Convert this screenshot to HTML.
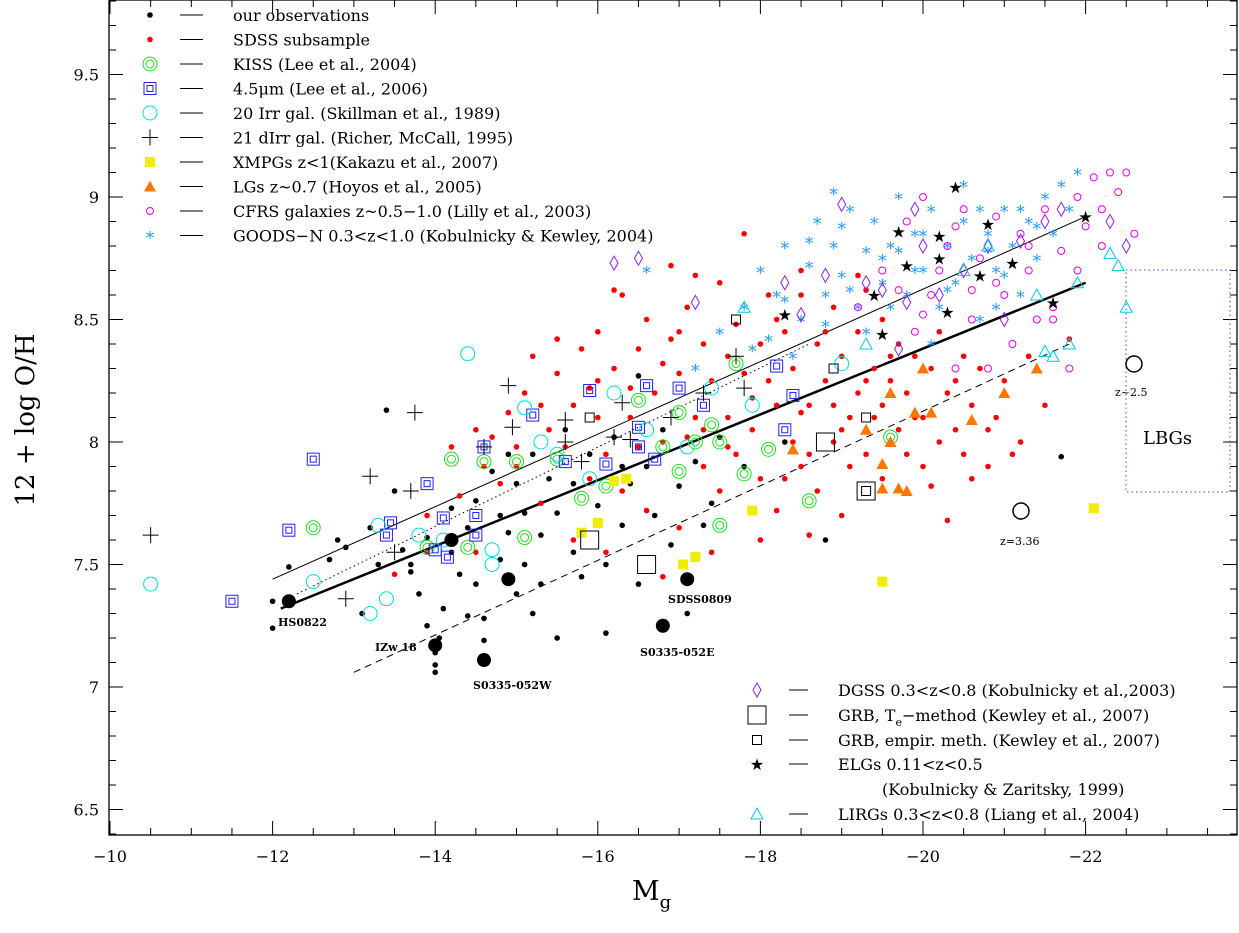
<!DOCTYPE html>
<html><head><meta charset="utf-8"><style>
body{margin:0;background:#fff}
svg text{font-family:"DejaVu Serif","Liberation Serif",serif}
</style></head><body>
<svg id="chart" width="1239" height="928" xmlns="http://www.w3.org/2000/svg"></svg>
<script>
const xTicks=[-10,-12,-14,-16,-18,-20,-22];
const yTicks=[6.5,7,7.5,8,8.5,9,9.5];
const ours=[[-12,7.24],[-12,7.35],[-12.2,7.49],[-12.7,7.52],[-12.9,7.57],[-13.1,7.3],[-13.3,7.5],[-13.4,8.13],[-13.5,7.8],[-13.6,7.56],[-13.7,7.47],[-13.8,7.38],[-13.9,7.61],[-14,7.06],[-14,7.09],[-14,7.14],[-14.05,7.2],[-14.1,7.32],[-14.2,7.55],[-14.2,7.73],[-14.3,7.46],[-14.4,7.29],[-14.5,7.76],[-14.5,7.42],[-14.6,7.28],[-14.6,7.19],[-14.7,7.88],[-14.8,7.52],[-14.8,7.7],[-14.9,7.63],[-15,7.38],[-15,7.83],[-15.1,7.71],[-15.1,7.5],[-15.2,7.95],[-15.3,7.42],[-15.3,7.62],[-15.4,7.85],[-15.5,7.71],[-15.6,8.05],[-15.7,7.55],[-15.7,7.83],[-15.9,7.95],[-16,7.74],[-16.1,7.5],[-16.2,8.02],[-16.3,7.66],[-16.4,7.83],[-16.5,8.27],[-16.5,7.42],[-16.6,7.9],[-16.7,7.7],[-16.8,8.05],[-16.9,7.58],[-17,7.82],[-17.1,7.3],[-17.2,7.92],[-17.3,7.66],[-17.4,7.75],[-17.5,8.02],[-16.1,7.22],[-15.2,7.3],[-13.7,7.5],[-12.8,7.6],[-18.8,7.6],[-21.7,7.94],[-18.3,8.0],[-15.8,7.45],[-14.4,7.65],[-13.2,7.65],[-17.8,7.9],[-14.9,7.95],[-15.5,7.2],[-13.9,7.25],[-16.3,7.9]];
const big=[[-12.2,7.35],[-14,7.17],[-14.2,7.6],[-14.6,7.11],[-14.9,7.44],[-16.8,7.25],[-17.1,7.44]];
const sdss=[[-13.5,7.46],[-13.9,7.7],[-14.2,7.98],[-14.5,8.05],[-14.7,8.02],[-14.8,7.83],[-15,7.9],[-15.1,8.2],[-15.2,8.35],[-15.3,7.75],[-15.4,8.05],[-15.5,8.28],[-15.6,7.98],[-15.7,8.15],[-15.8,8.38],[-15.9,7.85],[-16,8.1],[-16,8.45],[-16.1,7.95],[-16.2,8.3],[-16.3,8.6],[-16.3,7.8],[-16.4,8.1],[-16.5,8.38],[-16.6,7.72],[-16.6,8.5],[-16.7,8.2],[-16.8,8.0],[-16.9,8.42],[-17,8.28],[-17,7.65],[-17.1,8.55],[-17.2,8.1],[-17.3,7.9],[-17.3,8.4],[-17.4,8.25],[-17.5,8.65],[-17.5,7.8],[-17.6,8.1],[-17.7,8.48],[-17.7,7.95],[-17.8,8.85],[-17.8,8.28],[-17.9,8.05],[-18,8.4],[-18,7.85],[-18.1,8.6],[-18.2,8.15],[-18.2,7.72],[-18.3,8.45],[-18.4,8.0],[-18.4,8.3],[-18.5,7.9],[-18.5,8.6],[-18.6,8.15],[-18.7,8.4],[-18.7,7.8],[-18.8,8.25],[-18.9,8.0],[-18.9,8.55],[-19,7.7],[-19,8.35],[-19.1,8.1],[-19.1,7.9],[-19.2,8.45],[-19.2,8.2],[-19.3,7.95],[-19.4,8.3],[-19.4,8.1],[-19.5,7.85],[-19.5,8.5],[-19.6,8.25],[-19.7,8.05],[-19.7,8.4],[-19.8,7.95],[-19.8,8.2],[-19.9,8.35],[-20,8.1],[-20,7.9],[-20.1,8.3],[-20.2,8.0],[-20.2,8.45],[-20.3,8.2],[-20.3,7.68],[-20.4,8.05],[-20.5,8.35],[-20.5,7.95],[-20.6,8.15],[-20.7,8.3],[-20.8,7.9],[-20.9,8.1],[-21,8.25],[-21.2,8.0],[-21.3,8.35],[-21.5,8.15],[-21.8,8.42],[-15.7,7.6],[-16.1,7.55],[-16.8,7.45],[-17.4,7.55],[-18,7.6],[-18.6,7.62],[-14.9,8.12],[-15.5,8.42],[-16.2,8.62],[-16.9,8.72],[-17.2,8.68],[-18.5,8.7],[-19.3,8.62],[-13.9,7.55],[-14.3,7.78],[-14.6,7.9],[-15.9,8.22],[-16.5,7.98],[-17.6,8.35],[-18.9,8.15],[-19.6,8.0],[-20.6,7.85],[-21.1,7.95],[-19.2,8.68],[-16.8,8.32],[-17.1,8.02],[-17.6,7.98],[-18.1,8.25],[-18.3,7.85],[-18.8,8.45],[-19.0,8.05],[-19.6,8.35],[-19.9,8.1],[-20.4,8.25],[-20.8,8.05],[-16.4,8.22],[-17.9,8.18],[-18.6,7.95],[-19.3,8.25],[-15.3,8.15],[-16.0,8.25],[-17.0,8.45],[-18.2,8.5],[-17.3,8.05],[-18.5,8.12],[-19.5,8.15],[-20.1,7.82],[-15.0,7.98],[-14.5,7.55]];
const kiss=[[-12.5,7.65],[-13.9,7.57],[-14.2,7.93],[-14.4,7.57],[-14.6,7.92],[-15,7.92],[-15.1,7.61],[-15.5,7.93],[-15.8,7.77],[-16.1,7.82],[-16.5,8.17],[-16.8,7.98],[-17,7.88],[-17,8.12],[-17.2,8.0],[-17.4,8.07],[-17.5,8.0],[-17.7,8.32],[-17.5,7.66],[-17.8,7.87],[-18.1,7.97],[-18.6,7.76],[-19.6,8.02]];
const lee=[[-11.5,7.35],[-12.2,7.64],[-12.5,7.93],[-13.4,7.62],[-13.45,7.67],[-13.9,7.83],[-14,7.56],[-14.1,7.69],[-14.15,7.53],[-14.5,7.62],[-14.5,7.7],[-14.6,7.98],[-15.2,8.11],[-15.6,7.92],[-15.9,8.21],[-16.1,7.91],[-16.5,8.06],[-16.5,7.98],[-16.6,8.23],[-16.7,7.93],[-17,8.22],[-17.3,8.15],[-18.2,8.31],[-18.4,8.19],[-18.3,8.05]];
const skill=[[-10.5,7.42],[-12.5,7.43],[-13.2,7.3],[-13.3,7.66],[-13.4,7.36],[-13.8,7.62],[-14.1,7.6],[-14.4,8.36],[-14.7,7.56],[-14.7,7.5],[-15.1,8.14],[-15.3,8.0],[-15.5,7.95],[-15.9,7.85],[-16.2,8.2],[-16.6,8.05],[-17.1,7.98],[-17.4,8.22],[-17.9,8.15],[-19,8.32]];
const richer=[[-10.5,7.62],[-12.9,7.36],[-13.2,7.86],[-13.5,7.55],[-13.7,7.8],[-13.75,8.12],[-14.6,7.98],[-14.9,8.23],[-14.95,8.06],[-15.6,8.09],[-15.6,8.0],[-15.8,7.92],[-16.2,8.02],[-16.3,8.16],[-16.4,8.01],[-16.9,8.1],[-17.3,8.2],[-17.7,8.35],[-17.8,8.22]];
const xmpg=[[-16.2,7.84],[-16.35,7.85],[-16,7.67],[-15.8,7.63],[-17.2,7.53],[-17.05,7.5],[-17.9,7.72],[-19.5,7.43],[-22.1,7.73]];
const lgs=[[-18.4,7.97],[-19.5,7.91],[-19.6,8.0],[-19.6,8.2],[-19.7,7.81],[-19.8,7.8],[-19.9,8.12],[-20.1,8.12],[-20,8.3],[-20.6,8.09],[-21,8.2],[-21.4,8.3],[-19.3,8.05],[-19.5,7.81]];
const cfrs=[[-19.2,8.55],[-19.5,8.7],[-19.8,8.9],[-19.9,8.45],[-20,9.0],[-20.1,8.6],[-20.3,8.8],[-20.4,8.3],[-20.5,8.95],[-20.6,8.5],[-20.7,8.75],[-20.8,8.3],[-20.9,8.92],[-21,8.6],[-21.1,8.4],[-21.2,8.85],[-21.3,8.7],[-21.4,8.5],[-21.5,8.95],[-21.6,8.55],[-21.7,8.78],[-21.8,8.3],[-21.9,9.0],[-22,8.88],[-22.1,9.08],[-22.2,8.95],[-22.3,9.1],[-22.4,9.02],[-22.5,9.1],[-22.6,8.85],[-22.2,8.8],[-20.9,8.65],[-21.6,8.5],[-19.7,8.62],[-20.2,8.7],[-20.6,8.62],[-21.3,8.8],[-20.0,8.52],[-21.9,8.7],[-20.4,8.88]];
const goods=[[-17.5,8.45],[-17.8,8.55],[-18,8.7],[-18.2,8.6],[-18.3,8.8],[-18.5,8.5],[-18.6,8.72],[-18.7,8.9],[-18.8,8.6],[-18.9,8.8],[-19,8.68],[-19.1,8.95],[-19.2,8.55],[-19.3,8.78],[-19.4,8.9],[-19.5,8.65],[-19.6,8.8],[-19.7,9.0],[-19.8,8.6],[-19.9,8.85],[-20,8.7],[-20.1,8.95],[-20.2,8.55],[-20.3,8.8],[-20.4,8.65],[-20.5,8.9],[-20.6,8.75],[-20.7,8.5],[-20.8,8.85],[-20.9,8.7],[-21,8.95],[-21.1,8.8],[-21.2,8.6],[-21.3,8.9],[-21.4,8.75],[-21.5,9.0],[-21.6,8.85],[-21.7,9.05],[-21.8,8.95],[-21.9,9.1],[-18.4,8.35],[-19.3,8.45],[-20.1,8.4],[-18.1,8.42],[-19.6,8.55],[-20.9,8.55],[-17.2,8.3],[-16.6,8.7],[-18.9,9.02],[-20.5,9.05],[-18.6,8.82],[-19.0,8.88],[-19.5,8.75],[-19.9,8.7],[-20.3,8.62],[-20.7,8.95],[-21.0,8.68],[-21.4,8.88],[-19.1,8.62],[-18.8,8.48],[-20.0,8.85],[-20.8,8.78],[-21.2,8.95],[-19.7,8.78],[-18.3,8.58],[-17.9,8.38]];
const dgss=[[-16.2,8.73],[-16.5,8.75],[-17.2,8.57],[-18.8,8.68],[-19,8.97],[-19.3,8.65],[-19.5,8.62],[-19.8,8.57],[-20,8.8],[-20.2,8.6],[-20.5,8.7],[-20.8,8.8],[-21,8.5],[-21.2,8.82],[-21.5,8.9],[-21.7,8.95],[-22.5,8.8],[-22.3,8.9],[-18.3,8.65],[-19.7,8.38],[-18.5,8.52],[-19.9,8.95]];
const grbT=[[-15.9,7.6],[-16.6,7.5],[-18.8,8.0],[-19.3,7.8]];
const grbE=[[-17.7,8.5],[-18.9,8.3],[-19.3,7.8],[-19.3,8.1],[-15.9,8.1]];
const elg=[[-18.3,8.52],[-19.4,8.6],[-19.5,8.44],[-19.7,8.86],[-19.8,8.72],[-20.2,8.84],[-20.3,8.53],[-20.4,9.04],[-20.7,8.68],[-20.8,8.89],[-21.1,8.73],[-21.6,8.57],[-22,8.92],[-20.2,8.75]];
const lirg=[[-17.8,8.55],[-19.3,8.4],[-20.8,8.8],[-21.5,8.37],[-21.6,8.35],[-21.8,8.4],[-22.3,8.77],[-22.4,8.72],[-22.5,8.55],[-21.4,8.6],[-20.5,8.7],[-21.9,8.65]];
const fits=[{m1:-12.1,o1:7.32,m2:-22,o2:8.65,w:2.5,d:""},{m1:-12,o1:7.44,m2:-22,o2:8.92,w:1,d:""},{m1:-13,o1:7.06,m2:-21.8,o2:8.4,w:1,d:"7,5"},{m1:-12.3,o1:7.38,m2:-18.6,o2:8.4,w:1,d:"1.5,3"}];

const svg=document.getElementById('chart');const NS="http://www.w3.org/2000/svg";
const X=m=>110+(-10-m)*81.3, Y=v=>442-(v-8)*245;
function el(t,a,p){const e=document.createElementNS(NS,t);for(const k in a)e.setAttribute(k,a[k]);(p||svg).appendChild(e);return e;}
const fr=el('rect',{x:109,y:0,width:1128,height:835,fill:'none',stroke:'#000','stroke-width':1.3});


for(let m=-10;m>=-23.5;m-=0.5){const major=Math.abs(m%2)<0.01;const len=major?14:7;el('line',{x1:X(m),x2:X(m),y1:835,y2:835-len,stroke:'#000'});el('line',{x1:X(m),x2:X(m),y1:0,y2:len,stroke:'#000'});}
for(let v=6.4;v<=9.8;v+=0.1){const major=Math.abs(v*2-Math.round(v*2))<0.01;const len=major?14:7;el('line',{x1:109,x2:109+len,y1:Y(v),y2:Y(v),stroke:'#000'});el('line',{x1:1237,x2:1237-len,y1:Y(v),y2:Y(v),stroke:'#000'});}
xTicks.forEach(t=>{const e=el('text',{x:X(t),y:862,'text-anchor':'middle','font-size':16});e.textContent=String(t).replace('-','−');});
yTicks.forEach(t=>{const e=el('text',{x:99,y:Y(t)+6,'text-anchor':'end','font-size':16});e.textContent=String(t);});
let yt=el('text',{x:34,y:420,'text-anchor':'middle','font-size':26,transform:'rotate(-90 34 420)'});yt.textContent='12 + log O/H';

let xt=el('text',{x:632,y:900,'font-size':27});xt.innerHTML='M<tspan font-size="18" dy="8">g</tspan>';

fits.forEach(f=>{const l=el('line',{x1:X(f.m1),y1:Y(f.o1),x2:X(f.m2),y2:Y(f.o2),stroke:'#000','stroke-width':f.w,'stroke-dasharray':f.d});});
function mark(type,x,y){const g=el('g',{});
 switch(type){
 case 'dot':el('circle',{cx:x,cy:y,r:2.8,fill:'#000'},g);break;
 case 'red':el('circle',{cx:x,cy:y,r:2.8,fill:'#f00'},g);break;
 case 'big':el('circle',{cx:x,cy:y,r:7,fill:'#000'},g);break;
 case 'kiss':el('circle',{cx:x,cy:y,r:7,fill:'none',stroke:'#2d2'},g);el('circle',{cx:x,cy:y,r:4,fill:'none',stroke:'#2d2'},g);break;
 case 'lee':el('rect',{x:x-6,y:y-6,width:12,height:12,fill:'none',stroke:'#22e'},g);el('rect',{x:x-3,y:y-3,width:6,height:6,fill:'none',stroke:'#22e'},g);break;
 case 'skill':el('circle',{cx:x,cy:y,r:7,fill:'none',stroke:'#0dd'},g);break;
 case 'plus':el('path',{d:`M${x-8} ${y}h16M${x} ${y-8}v16`,stroke:'#000'},g);break;
 case 'xmpg':el('rect',{x:x-5,y:y-5,width:10,height:10,fill:'#ee0'},g);break;
 case 'lgs':el('path',{d:`M${x} ${y-6}L${x+6} ${y+5}L${x-6} ${y+5}Z`,fill:'#f70'},g);break;
 case 'cfrs':el('circle',{cx:x,cy:y,r:3.5,fill:'none',stroke:'#e0e'},g);break;
 case 'goods':el('text',{x:x,y:y+8,'text-anchor':'middle','font-size':17,fill:'#29f'},g).textContent='*';break;
 case 'dgss':el('path',{d:`M${x} ${y-7}L${x+4} ${y}L${x} ${y+7}L${x-4} ${y}Z`,fill:'none',stroke:'#82e'},g);break;
 case 'grbT':el('rect',{x:x-9,y:y-9,width:18,height:18,fill:'none',stroke:'#000'},g);break;
 case 'grbE':el('rect',{x:x-4.5,y:y-4.5,width:9,height:9,fill:'none',stroke:'#000'},g);break;
 case 'star':el('text',{x:x,y:y+6,'text-anchor':'middle','font-size':16,fill:'#000'},g).textContent='★';break;
 case 'lirg':el('path',{d:`M${x} ${y-6}L${x+6} ${y+5}L${x-6} ${y+5}Z`,fill:'none',stroke:'#0cd'},g);break;
 }return g;}
function series(arr,type,name){arr.forEach(p=>{const g=mark(type,X(p[0]),Y(p[1]));});}
series(sdss,'red','sdss-point');series(ours,'dot','our-observation-point');series(goods,'goods','goods-n-point');series(cfrs,'cfrs','cfrs-point');
series(dgss,'dgss','dgss-point');series(kiss,'kiss','kiss-point');series(lee,'lee','lee-4.5um-point');series(skill,'skill','irr-galaxy-point');
series(richer,'plus','dirr-galaxy-point');series(xmpg,'xmpg','xmpg-point');series(lgs,'lgs','lg-point');series(grbT,'grbT','grb-te-point');
series(grbE,'grbE','grb-empirical-point');series(elg,'star','elg-point');series(lirg,'lirg','lirg-point');series(big,'big','named-galaxy-point');
const names=[['HS0822',278,626],['IZw 18',375,651],['S0335-052W',473,689],['S0335-052E',640,656],['SDSS0809',668,603]];
names.forEach(n=>{const t=el('text',{x:n[1],y:n[2],'font-size':11,'font-weight':'bold'});t.textContent=n[0];});
const lb=el('rect',{x:1126,y:270,width:104,height:222,fill:'none',stroke:'#44c','stroke-dasharray':'1.5,3'});
let t=el('text',{x:1143,y:444,'font-size':18});t.textContent='LBGs';
[[1134,364,'z~2.5',1115,396],[1021,511,'z=3.36',1000,545]].forEach(c=>{const g=el('g',{});el('circle',{cx:c[0],cy:c[1],r:8,fill:'none',stroke:'#000','stroke-width':1.5},g);el('text',{x:c[3],y:c[4],'font-size':11},g).textContent=c[2];});
const leg1=[['dot','our observations'],['red','SDSS subsample'],['kiss','KISS (Lee et al., 2004)'],['lee','4.5μm (Lee et al., 2006)'],['skill','20 Irr gal. (Skillman et al., 1989)'],['plus','21 dIrr gal. (Richer, McCall, 1995)'],['xmpg','XMPGs z<1(Kakazu et al., 2007)'],['lgs','LGs z~0.7 (Hoyos et al., 2005)'],['cfrs','CFRS galaxies z~0.5−1.0 (Lilly et al., 2003)'],['goods','GOODS−N 0.3<z<1.0 (Kobulnicky & Kewley, 2004)']];
leg1.forEach((l,i)=>{const y=15+i*24.5;const g=el('g',{});g.appendChild(mark(l[0],150,y));el('line',{x1:180,x2:203,y1:y,y2:y,stroke:'#000'},g);el('text',{x:233,y:y+6,'font-size':16},g).textContent=l[1];});
const leg2=[['dgss','DGSS 0.3&lt;z&lt;0.8 (Kobulnicky et al.,2003)',690],['grbT','GRB, T<tspan font-size="11" dy="5">e</tspan><tspan dy="-5">−method (Kewley et al., 2007)</tspan>',715],['grbE','GRB, empir. meth. (Kewley et al., 2007)',740],['star','ELGs  0.11&lt;z&lt;0.5',764],['','(Kobulnicky &amp; Zaritsky, 1999)',789],['lirg','LIRGs  0.3&lt;z&lt;0.8 (Liang et al., 2004)',814]];
leg2.forEach(l=>{const y=l[2];const g=el('g',{});if(l[0]){g.appendChild(mark(l[0],757,y));el('line',{x1:789,x2:808,y1:y,y2:y,stroke:'#000'},g);}el('text',{x:l[0]?838:882,y:y+6,'font-size':16,'xml:space':'preserve'},g).innerHTML=l[1];});
</script>
</body></html>
